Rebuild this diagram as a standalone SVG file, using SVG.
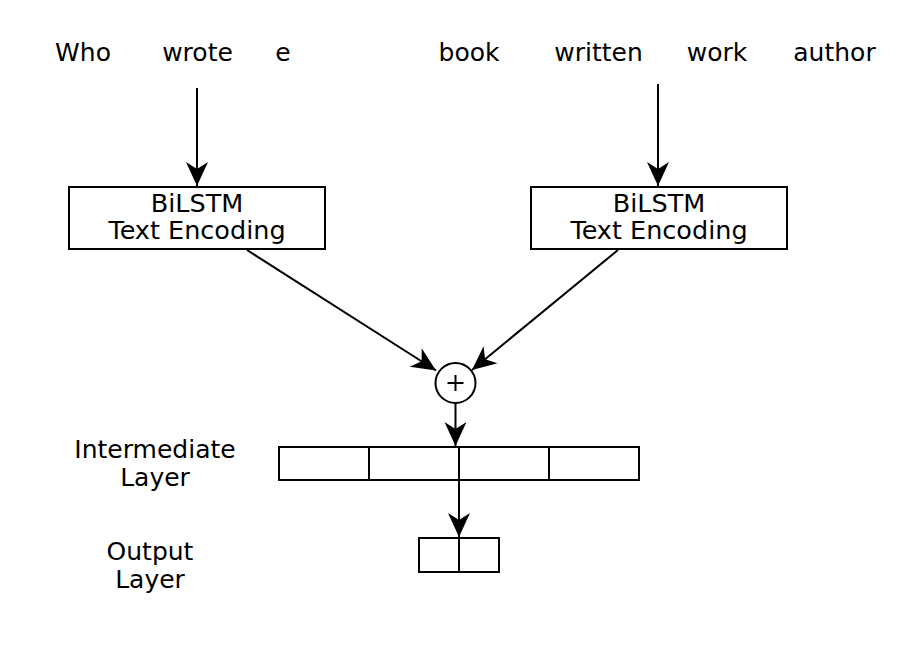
<svg xmlns="http://www.w3.org/2000/svg" width="913" height="659" viewBox="0 0 913 659">
<style>
  .t { font-family: "DejaVu Sans", "Liberation Sans", sans-serif; font-size: 25px; fill: #000; text-anchor: middle; }
  .b { font-size: 25.5px; }
  .box { fill: #fff; stroke: #000; stroke-width: 2; }
  .ln { fill: none; stroke: #000; stroke-width: 2; }
  .arr { fill: none; stroke: #000; stroke-width: 2; marker-end: url(#ah); }
</style>
<defs>
  <marker id="ah" viewBox="-25 -12 26 24" refX="0" refY="0" markerWidth="26" markerHeight="24" markerUnits="userSpaceOnUse" orient="auto">
    <path d="M0,0 L-24,-11 L-17,0 L-24,11 Z" fill="#000"/>
  </marker>
</defs>
<rect width="913" height="659" fill="#fff"/>
<g id="words">
  <text class="t" x="83" y="61">Who</text>
  <text class="t" x="197.5" y="61">wrote</text>
  <text class="t" x="283" y="61">e</text>
  <text class="t" x="469" y="61">book</text>
  <text class="t" x="598.5" y="61">written</text>
  <text class="t" x="717" y="61">work</text>
  <text class="t" x="834.5" y="61">author</text>
</g>
<g id="enc-left">
  <rect class="box" x="69" y="187" width="256" height="62"/>
  <text class="t b" x="197" y="211.5">BiLSTM</text>
  <text class="t b" x="197" y="239">Text Encoding</text>
</g>
<g id="enc-right">
  <rect class="box" x="531" y="187" width="256" height="62"/>
  <text class="t b" x="659" y="211.5">BiLSTM</text>
  <text class="t b" x="659" y="239">Text Encoding</text>
</g>
<g id="sum">
  <circle class="box" cx="455.5" cy="383" r="20"/>
  <path class="ln" d="M447.5,383 H463.5 M455.5,375 V391"/>
</g>
<g id="intermediate">
  <rect class="box" x="279" y="447" width="360" height="33"/>
  <path class="ln" d="M369,447 V480 M459,447 V480 M549,447 V480"/>
  <text class="t" x="155" y="458">Intermediate</text>
  <text class="t" x="155" y="486">Layer</text>
</g>
<g id="output">
  <rect class="box" x="419" y="538" width="80" height="34"/>
  <path class="ln" d="M459,538 V572"/>
  <text class="t" x="150" y="560">Output</text>
  <text class="t" x="150" y="588">Layer</text>
</g>
<g id="connectors">
  <line class="arr" x1="197" y1="88" x2="197" y2="186"/>
  <line class="arr" x1="658" y1="84" x2="658" y2="186"/>
  <line class="arr" x1="247" y1="250" x2="436" y2="370.5"/>
  <line class="arr" x1="618" y1="250" x2="472" y2="370"/>
  <line class="arr" x1="455.5" y1="403" x2="455.5" y2="446"/>
  <line class="arr" x1="459" y1="480" x2="459" y2="537"/>
</g>
</svg>
